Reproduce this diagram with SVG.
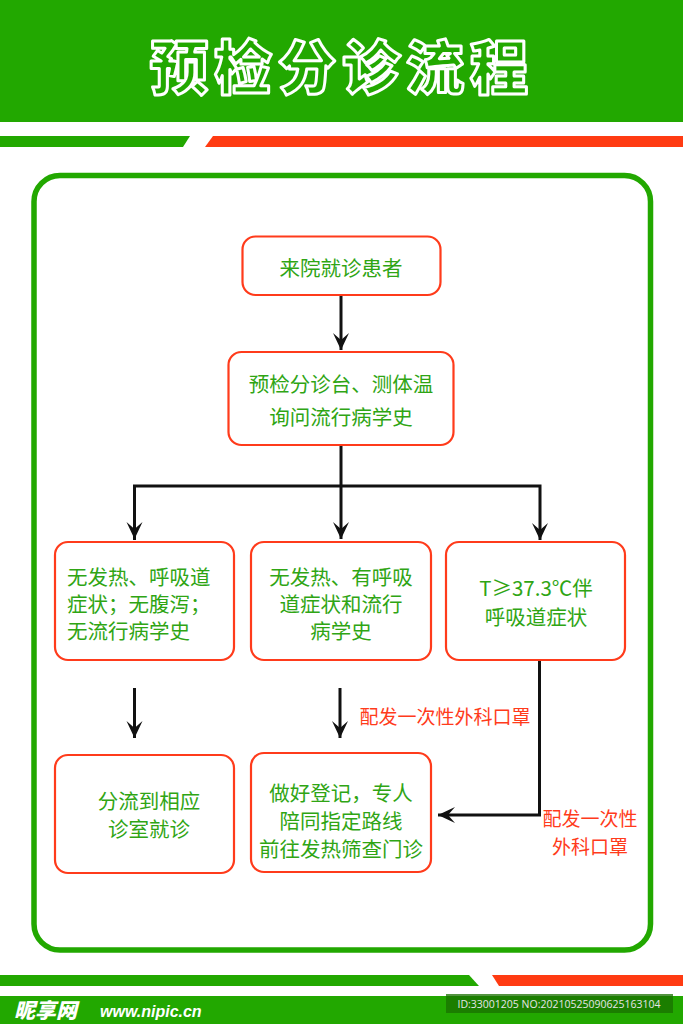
<svg xmlns="http://www.w3.org/2000/svg" width="683" height="1024" viewBox="0 0 683 1024">
<style>
.box{fill:#fff;stroke:#ff3b1b;stroke-width:2.2}
.t{font-family:"Noto Sans CJK SC","Noto Sans",sans-serif;font-size:20.5px;fill:#2fa514;text-anchor:middle;dominant-baseline:central}
.s{text-anchor:start}
.r{font-family:"Noto Sans CJK SC","Noto Sans",sans-serif;font-size:19px;fill:#ff3b1b;text-anchor:middle;dominant-baseline:central}
.ln{fill:none;stroke:#111;stroke-width:3}
</style>
<defs>
<marker id="ah" markerUnits="userSpaceOnUse" markerWidth="20" markerHeight="20" viewBox="-18 -10 20 20" refX="0" refY="0" orient="auto">
<path d="M0,0 L-17,-8 L-10,0 L-17,8 Z" fill="#111"/>
</marker>
</defs>
<rect x="0" y="0" width="683" height="1024" fill="#fff"/>
<g id="header">
<rect x="0" y="0" width="683" height="122" fill="#22a800"/>
<text x="342" y="64" font-family="Noto Sans CJK SC,sans-serif" font-weight="900" font-size="58" letter-spacing="6" text-anchor="middle" dominant-baseline="central" fill="#22a800" stroke="#fff" stroke-width="3" stroke-linejoin="round">预检分诊流程</text>
<polygon points="0,136 190,136 183,147 0,147" fill="#22a800"/>
<polygon points="213,136 683,136 683,147 205,147" fill="#ff3b12"/>
</g>
<rect id="frame" x="34" y="175.5" width="616.5" height="774.5" rx="26" fill="none" stroke="#22a800" stroke-width="5.5"/>
<g id="connectors">
<line class="ln" x1="341" y1="296" x2="341" y2="350" marker-end="url(#ah)"/>
<line class="ln" x1="341" y1="446" x2="341" y2="539" marker-end="url(#ah)"/>
<path class="ln" d="M134.5,540 V486 H540 V540" marker-end="url(#ah)"/>
<line class="ln" x1="134.5" y1="486" x2="134.5" y2="539" marker-end="url(#ah)"/>
<line class="ln" x1="134.5" y1="688" x2="134.5" y2="738" marker-end="url(#ah)"/>
<line class="ln" x1="340" y1="688" x2="340" y2="738" marker-end="url(#ah)"/>
<path class="ln" d="M539.5,661 V815 H438" marker-end="url(#ah)"/>
<text class="r" x="445" y="715">配发一次性外科口罩</text>
<text class="r" x="590" y="817">配发一次性</text>
<text class="r" x="590" y="845">外科口罩</text>
</g>
<g id="n1">
<rect class="box" x="242.5" y="236.5" width="198" height="58.5" rx="13"/>
<text class="t" x="341" y="267">来院就诊患者</text>
</g>
<g id="n2">
<rect class="box" x="228.5" y="352" width="225" height="93" rx="13"/>
<text class="t" x="341" y="383">预检分诊台、测体温</text>
<text class="t" x="341" y="416">询问流行病学史</text>
</g>
<g id="n3">
<rect class="box" x="55" y="542" width="179" height="118" rx="13"/>
<text class="t s" x="67" y="576">无发热、呼吸道</text>
<text class="t s" x="67" y="603">症状；无腹泻；</text>
<text class="t s" x="67" y="630">无流行病学史</text>
</g>
<g id="n4">
<rect class="box" x="251" y="542" width="180" height="118" rx="13"/>
<text class="t" x="341" y="576">无发热、有呼吸</text>
<text class="t" x="341" y="603">道症状和流行</text>
<text class="t" x="341" y="630">病学史</text>
</g>
<g id="n5">
<rect class="box" x="446" y="542" width="179" height="118" rx="13"/>
<text class="t" x="536" y="587">T≥37.3℃伴</text>
<text class="t" x="536" y="616">呼吸道症状</text>
</g>
<g id="n6">
<rect class="box" x="55" y="755" width="179" height="118" rx="13"/>
<text class="t" x="149" y="800">分流到相应</text>
<text class="t" x="149" y="828">诊室就诊</text>
</g>
<g id="n7">
<rect class="box" x="251" y="753" width="180" height="119" rx="13"/>
<text class="t" x="341" y="792">做好登记，专人</text>
<text class="t" x="341" y="820">陪同指定路线</text>
<text class="t" x="341" y="848">前往发热筛查门诊</text>
</g>
<g id="footer">
<polygon points="0,975 469,975 479,986 0,986" fill="#22a800"/>
<polygon points="492,975 683,975 683,986 499,986" fill="#ff3b12"/>
<rect x="0" y="996" width="683" height="28" fill="#22a800"/>
<text x="14" y="1018" font-family="Noto Sans CJK SC,sans-serif" font-weight="900" font-style="italic" font-size="21" fill="#fff">昵享网</text>
<text x="100" y="1017" font-family="Liberation Sans,sans-serif" font-weight="bold" font-style="italic" font-size="16" fill="#fff">www.nipic.cn</text>
<rect x="446" y="994" width="227" height="19" fill="#1a7000" fill-opacity="0.75"/>
<text x="559" y="1004" font-family="Open Sans,sans-serif" font-size="10.5" fill="#e6e6e6" text-anchor="middle" dominant-baseline="central">ID:33001205 NO:20210525090625163104</text>
</g>
</svg>
